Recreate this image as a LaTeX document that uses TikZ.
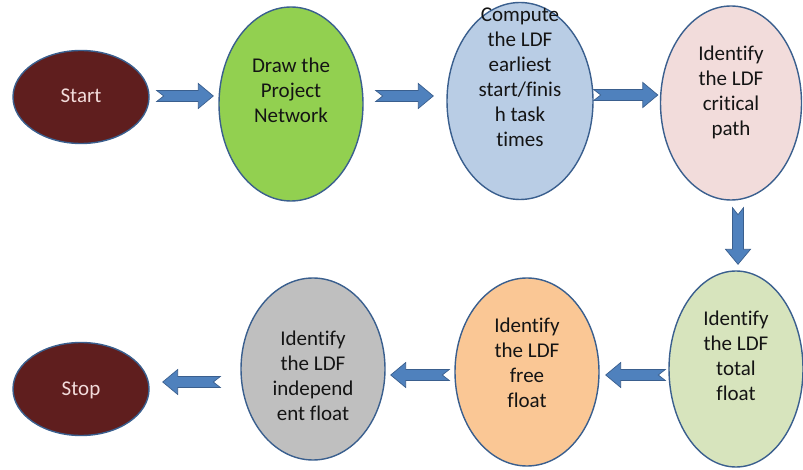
\documentclass[tikz,border=0pt]{standalone}
\usepackage{fontspec}
\setmainfont{Carlito}[Ligatures=NoCommon]
\usetikzlibrary{
    calc,
    shapes.geometric
}
\definecolor{terminalred}{HTML}{5F1E1E}
\definecolor{terminaltext}{HTML}{F2DCDB}
\definecolor{outlineblue}{HTML}{3A5F8E}
\definecolor{arrowblue}{HTML}{4F81BD}
\definecolor{drawgreen}{HTML}{92D050}
\definecolor{computeblue}{HTML}{B9CDE5}
\definecolor{criticalpink}{HTML}{F2DCDB}
\definecolor{totalgreen}{HTML}{D7E4BD}
\definecolor{freeorange}{HTML}{FAC795}
\definecolor{indepgray}{HTML}{BFBFBF}
\newcommand{\shafthalf}{5.5pt}
\newcommand{\headhalf}{12.5pt}
\newcommand{\headlen}{15pt}
\newcommand{\notchdepth}{7pt}
\tikzset{
    stage/.style={
        ellipse,
        draw=outlineblue,
        line width=1.4pt,
        inner sep=0pt
    },
    terminal/.style={
        stage,
        fill=terminalred,
        minimum width=136pt,
        minimum height=93pt
    },
    stage text/.style={
        align=center,
        font=\fontsize{21}{25}\selectfont,
        text=black!92
    },
    terminal text/.style={
        stage text,
        text=terminaltext
    },
    block arrow/.style={
        fill=arrowblue,
        draw=outlineblue,
        line width=0.7pt,
        line join=miter
    }
}
% #1 tail coordinate, #2 tip coordinate
\newcommand{\drawblockarrow}[2]{%
    \coordinate (#2-base) at ($(#2)!\headlen!(#1)$);
    \path[block arrow]
        ($(#1)!\shafthalf!90:(#2)$)
        -- ($(#2-base)!\shafthalf!90:(#2)$)
        -- ($(#2-base)!\headhalf!90:(#2)$)
        -- (#2)
        -- ($(#2-base)!\headhalf!-90:(#2)$)
        -- ($(#2-base)!\shafthalf!-90:(#2)$)
        -- ($(#1)!\shafthalf!-90:(#2)$)
        -- ($(#1)!\notchdepth!(#2)$)
        -- cycle;
}

\begin{document}
\begin{tikzpicture}[x=1pt, y=-1pt]

    \useasboundingbox[fill=white] (0,0) rectangle (803,470);

    % -------------------------------------------------------------------------
    % Top row: start to critical path.
    % -------------------------------------------------------------------------
    \node[terminal] (start) at (81,97) {};
    \node[terminal text] (starttext) at ($(start)+(0,-1)$) {Start};

    \node[stage, fill=drawgreen, minimum width=144pt, minimum height=194pt]
        (draw) at (291,104) {};
    \node[stage text] (drawtext) at ($(draw)+(0,-14)$)
        {Draw the\\Project\\Network};

    \node[stage, fill=computeblue, minimum width=146pt, minimum height=197pt]
        (compute) at (520,101) {};
    \node[stage text] (computetext) at ($(compute)+(0,-24)$)
        {Compute\\the LDF\\earliest\\start/finis\\h task\\times};

    \node[stage, fill=criticalpink, minimum width=141pt, minimum height=194pt]
        (critical) at (731,103) {};
    \node[stage text] (criticaltext) at ($(critical)+(0,-11)$)
        {Identify\\the LDF\\critical\\path};

    % -------------------------------------------------------------------------
    % Bottom row: total float back to stop.
    % -------------------------------------------------------------------------
    \node[stage, fill=totalgreen, minimum width=134pt, minimum height=196pt]
        (total) at (736,369) {};
    \node[stage text] (totaltext) at ($(total)+(0,-13)$)
        {Identify\\the LDF\\total\\float};

    \node[stage, fill=freeorange, minimum width=144pt, minimum height=188pt]
        (free) at (527,372) {};
    \node[stage text] (freetext) at ($(free)+(0,-9)$)
        {Identify\\the LDF\\free\\float};

    \node[stage, fill=indepgray, minimum width=144pt, minimum height=182pt]
        (indep) at (313,369) {};
    \node[stage text] (indeptext) at ($(indep)+(0,7)$)
        {Identify\\the LDF\\independ\\ent float};

    \node[terminal] (stop) at (81,389) {};
    \node[terminal text] (stoptext) at ($(stop)+(0,1)$) {Stop};

    % -------------------------------------------------------------------------
    % Block arrows between the steps.
    % -------------------------------------------------------------------------
    \coordinate (a1tail) at ($(start.east)+(7,-1)$);
    \coordinate (a1tip) at ($(draw.west |- a1tail)+(-5,0)$);
    \drawblockarrow{a1tail}{a1tip}

    \coordinate (a2tail) at ($(draw.east)+(12,-8)$);
    \coordinate (a2tip) at ($(compute.west |- a2tail)+(-13,0)$);
    \drawblockarrow{a2tail}{a2tip}

    \coordinate (a3tail) at ($(compute.east)+(0,-6)$);
    \coordinate (a3tip) at ($(critical.west |- a3tail)+(-2,0)$);
    \drawblockarrow{a3tail}{a3tip}

    \coordinate (a4tail) at ($(critical.south)+(7,7)$);
    \coordinate (a4tip) at ($(a4tail |- total.north)+(0,-6)$);
    \drawblockarrow{a4tail}{a4tip}

    \coordinate (a5tail) at ($(total.west)+(-3,6)$);
    \coordinate (a5tip) at ($(free.east |- a5tail)+(6,0)$);
    \drawblockarrow{a5tail}{a5tip}

    \coordinate (a6tail) at ($(free.west)+(-5,3)$);
    \coordinate (a6tip) at ($(indep.east |- a6tail)+(5,0)$);
    \drawblockarrow{a6tail}{a6tip}

    \coordinate (a7tail) at ($(indep.west)+(-20,13)$);
    \coordinate (a7tip) at ($(stop.east |- a7tail)+(13,0)$);
    \drawblockarrow{a7tail}{a7tip}

\end{tikzpicture}
\end{document}
